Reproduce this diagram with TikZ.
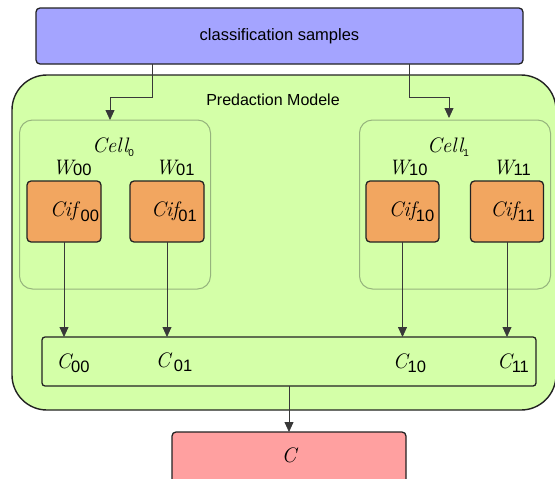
\documentclass[tikz,border=0pt]{standalone}
\usepackage{fontspec}
\setmainfont{Liberation Sans}
\newfontfamily\lmr{Latin Modern Roman}
\usetikzlibrary{arrows.meta}
\definecolor{topblue}{RGB}{164,164,255}
\definecolor{modgreen}{RGB}{212,255,168}
\definecolor{ciforange}{RGB}{242,166,96}
\definecolor{outred}{RGB}{255,160,160}
\definecolor{cellgray}{RGB}{150,180,125}
\definecolor{edgec}{RGB}{34,34,34}
\newcommand{\dgt}[2][-1pt]{\raisebox{#1}{\fontsize{16.5}{16}\rmfamily\upshape\selectfont #2}}
\newcommand{\ital}[1]{{\lmr\itshape #1}}
\begin{document}
\begin{tikzpicture}[x=1pt,y=-1pt,
  boxbase/.style={draw=edgec, inner sep=0pt, outer sep=0pt},
  topbox/.style={boxbase, line width=1.3pt, fill=topblue, rounded corners=4pt,
    minimum width=487pt, minimum height=56pt, font=\fontsize{16.5}{20}\selectfont},
  modbox/.style={boxbase, line width=1.4pt, fill=modgreen, rounded corners=35pt,
    minimum width=544pt, minimum height=335pt},
  cellbox/.style={draw=cellgray, line width=1pt, inner sep=0pt, outer sep=0pt,
    rounded corners=13pt, minimum width=191pt, minimum height=169pt},
  cifbox/.style={boxbase, line width=1.3pt, fill=ciforange, rounded corners=4pt,
    minimum width=74pt, minimum height=61pt, font=\fontsize{21}{22}\selectfont},
  cbox/.style={boxbase, line width=1.3pt, rounded corners=3pt,
    minimum width=494pt, minimum height=49pt},
  redbox/.style={boxbase, line width=1.3pt, fill=outred, rounded corners=4pt,
    minimum width=234pt, minimum height=56pt},
  lbl/.style={inner sep=0pt, font=\fontsize{16}{20}\selectfont},
  mlbl/.style={inner sep=0pt, font=\fontsize{21}{22}\selectfont},
  conn/.style={draw=edgec!90, line width=0.8pt, -{Triangle[length=10pt,width=9pt]}}
]
\useasboundingbox (0,0) rectangle (555,479);

\node[topbox] (top) at (279.5,36) {classification samples};
\node[modbox] (mod) at (284,242.5) {};
\node[lbl] (modlbl) at (273,100) {Predaction Modele};

\node[cellbox] (cell0) at (115,204.5) {};
\node[cellbox] (cell1) at (455,204.5) {};
\node[mlbl] (cl0) at (113,147) {\ital{Cell}\raisebox{-4pt}{\fontsize{10}{10}\selectfont 0}};
\node[mlbl] (cl1) at (448,147) {\ital{Cell}\raisebox{-4pt}{\fontsize{10}{10}\selectfont 1}};

\node[mlbl] (w00) at (72,168) {\ital{W}\dgt{00}};
\node[mlbl] (w01) at (175,168) {\ital{W}\dgt{01}};
\node[mlbl] (w10) at (408,168) {\ital{W}\dgt{10}};
\node[mlbl] (w11) at (512,168) {\ital{W}\dgt{11}};

\node[cifbox] (cif00) at (64,211.5) {\hspace*{21pt}\ital{Cif}\,\dgt[-5pt]{00}};
\node[cifbox] (cif01) at (167,211.5) {\hspace*{14pt}\ital{Cif}\dgt[-5pt]{01}};
\node[cifbox, minimum width=73pt] (cif10) at (402.5,211.5) {\hspace*{18pt}\ital{Cif}\dgt[-5pt]{10}};
\node[cifbox, minimum width=73pt] (cif11) at (507,211.5) {\hspace*{11pt}\ital{Cif}\dgt[-5pt]{11}};

\node[cbox] (cb) at (289,361.5) {};
\node[mlbl] (c00) at (73,363) {\ital{C}\dgt[-4pt]{00}};
\node[mlbl] (c01) at (174,362) {\ital{C}\,\dgt[-4pt]{01}};
\node[mlbl] (c10) at (409.5,363) {\ital{C}\dgt[-4pt]{10}};
\node[mlbl] (c11) at (513,363) {\ital{C}\dgt[-4pt]{11}};

\node[redbox] (red) at (289,460) {};
\node[mlbl] (cout) at (289,455) {\ital{C}};

\coordinate (s0) at (152,64);
\coordinate (s1) at (409,64);
\coordinate (t0) at (110,120);
\coordinate (t1) at (449,118);
\draw[conn] (s0) -- ++(0,33) -| (t0);
\draw[conn] (s1) -- ++(0,33) -| (t1);

\draw[conn] (cif00) -- (cif00 |- cb.north);
\draw[conn] (cif01) -- (cif01 |- cb.north);
\draw[conn] (cif10) -- (cif10 |- cb.north);
\draw[conn] (cif11) -- (cif11 |- cb.north);
\draw[conn] (cb) -- (red);
\end{tikzpicture}
\end{document}
